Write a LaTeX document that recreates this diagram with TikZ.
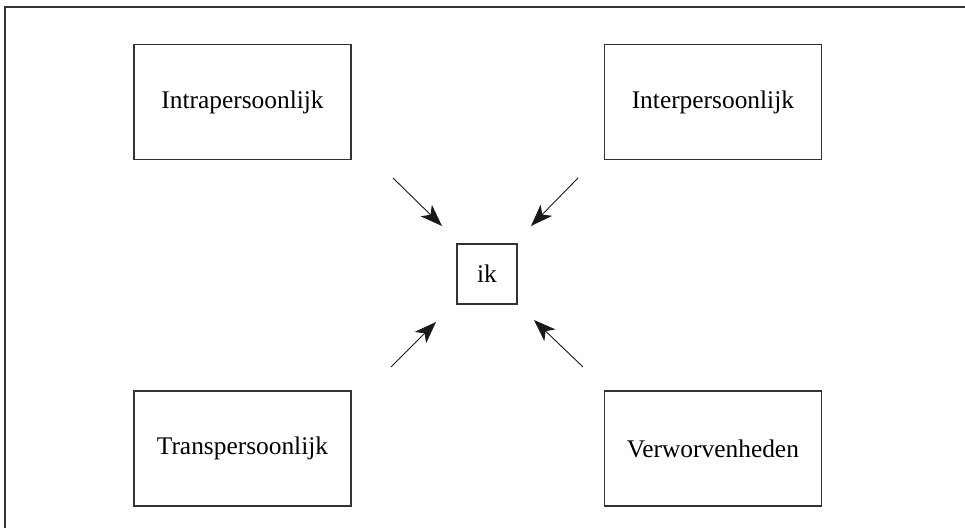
\documentclass[tikz,border=0pt]{standalone}
\usepackage{fontspec}
\setmainfont{Liberation Serif}
\usetikzlibrary{positioning, arrows.meta, calc}
\definecolor{lijn}{gray}{0.2}

\begin{document}
\begin{tikzpicture}[x=0.5pt, y=-0.5pt, node distance=126pt,
	box/.style={draw=lijn, line width=0.7pt, minimum width=108.5pt, minimum height=57.5pt, inner sep=0pt, font=\fontsize{12.7}{15}\selectfont},
	ikbox/.style={draw=lijn, line width=0.7pt, minimum width=30pt, minimum height=30pt, inner sep=0pt, font=\fontsize{12.7}{15}\selectfont},
	pijl/.style={-{Stealth[length=11pt, width=8pt, inset=3pt]}, line width=0.45pt, black!90}]
	\useasboundingbox (0,0) rectangle (965,528);
	% kader
	\draw[lijn, line width=0.9pt] (5,530) -- (5,7) -- (967,7);
	\node[box] (intra) at (242.5,102) {Intrapersoonlijk};
	\node[box, right =of intra] (inter) {Interpersoonlijk};
	\node[box, below =115pt of intra] (trans) {Transpersoonlijk};
	\node[box, below =115pt of inter] (verw) {Verworvenheden};
	\node[ikbox] (ik) at (487,274) {ik};
	% pijlen naar ik
	\coordinate (p1) at (393,178);
	\coordinate (q1) at (442,226);
	\coordinate (p2) at (578,178);
	\coordinate (q2) at (531,226);
	\coordinate (p3) at (391,367);
	\coordinate (q3) at (436,322);
	\coordinate (p4) at (583,367);
	\coordinate (q4) at (534,320);
	\draw[pijl] (p1) -- (q1);
	\draw[pijl] (p2) -- (q2);
	\draw[pijl] (p3) -- (q3);
	\draw[pijl] (p4) -- (q4);
\end{tikzpicture}
\end{document}
